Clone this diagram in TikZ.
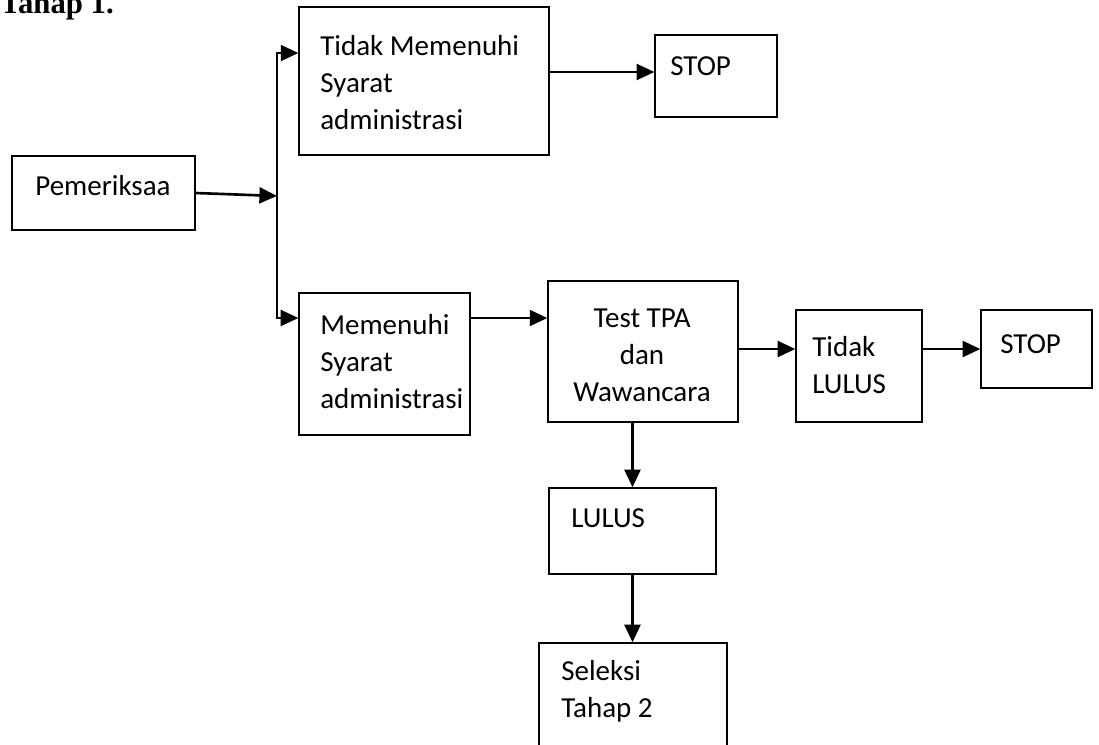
\documentclass[tikz,border=0pt]{standalone}
\usepackage{fontspec}
\setmainfont{Carlito}
\newfontfamily\titlefont{Liberation Serif}
\usetikzlibrary{arrows.meta,calc}

\begin{document}
\begin{tikzpicture}
  [x=0.02cm,y=-0.02cm,
   box/.style={draw,line width=0.8pt,inner sep=0pt},
   txt/.style={inner sep=0pt,align=left,anchor=base west,font=\fontsize{16.5}{21}\selectfont},
   arr/.style={line width=1.5pt,-{Triangle[length=10pt,width=9pt]}}]
  \useasboundingbox (0,0) rectangle (1099,744);

  \node[anchor=base west,inner sep=0pt,font=\titlefont\bfseries\fontsize{17.5}{21}\selectfont] (title) at (0,13) {Tahap 1.};

  % boxes
  \node[box,minimum width=5cm,minimum height=2.96cm] (tms) at (424,81) {};
  \node[box,minimum width=2.44cm,minimum height=1.64cm] (stop1) at (716,76) {};
  \node[box,minimum width=3.66cm,minimum height=1.48cm] (pem) at (103.5,193) {};
  \node[box,minimum width=3.42cm,minimum height=2.84cm] (ms) at (384.5,364) {};
  \node[box,minimum width=3.8cm,minimum height=2.82cm] (tpa) at (643,351.5) {};
  \node[box,minimum width=2.52cm,minimum height=2.24cm] (tl) at (859,366) {};
  \node[box,minimum width=2.22cm,minimum height=1.56cm] (stop2) at (1036.5,349) {};
  \node[box,minimum width=3.34cm,minimum height=1.72cm] (lulus) at (632.5,531) {};
  \node[box,minimum width=3.76cm,minimum height=2.4cm] (sel) at (633,703) {};

  % texts (anchored on the last line)
  \node[txt] (tmsT) at (320,129) {Tidak Memenuhi\\Syarat\\administrasi};
  \node[txt] (stop1T) at (670,75) {STOP};
  \node[txt] (pemT) at (35,195) {Pemeriksaa};
  \node[txt] (msT) at (320,408) {Memenuhi\\Syarat\\administrasi};
  \node[txt,align=center,anchor=base] (tpaT) at (642,401) {Test TPA\\dan\\Wawancara};
  \node[txt] (tlT) at (812,393) {Tidak\\LULUS};
  \node[txt] (stop2T) at (1000,353) {STOP};
  \node[txt] (lulusT) at (571,527) {LULUS};
  \node[txt] (selT) at (561,717) {Seleksi\\Tahap 2};

  % connectors
  \coordinate (j) at (277,196);
  \coordinate (jt) at (277,53);
  \coordinate (jb) at (277,318);
  \draw[arr] (pem.east) -- (j);
  \draw[arr] (j) |- (jt -| tms.west);
  \draw[arr] (j) |- (jb -| ms.west);
  \draw[arr] ($(tms.east)+(0,-9)$) -- ($(tms.east -| stop1.west)+(0,-9)$);
  \draw[arr] (jb -| ms.east) -- (jb -| tpa.west);
  \draw[arr] (tpa.east |- stop2.west) -- (tl.west |- stop2.west);
  \draw[arr] (tl.east |- stop2.west) -- (stop2.west);
  \draw[arr] (tpa.south -| lulus.north) -- (lulus.north);
  \draw[arr] (lulus.south) -- (lulus.south |- sel.north);

\end{tikzpicture}
\end{document}
